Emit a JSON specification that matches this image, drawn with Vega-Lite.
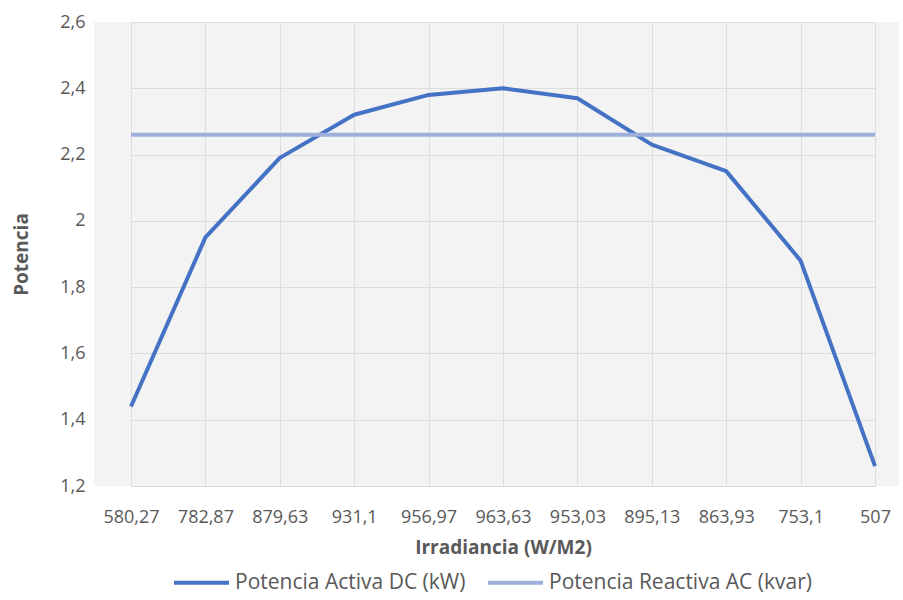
{
  "$schema": "https://vega.github.io/schema/vega-lite/v6.json",
  "width": 805,
  "height": 464,
  "autosize": {"type": "none"},
  "padding": {"left": 94, "top": 22, "right": 4, "bottom": 114},
  "background": "white",
  "config": {
    "font": "Open Sans",
    "view": {"fill": "#F3F3F3", "stroke": null},
    "axis": {"labelColor": "#595959", "titleColor": "#595959", "labelFontSize": 18, "titleFontSize": 19, "titleFontWeight": "bold", "gridColor": "#DDDDDD", "gridWidth": 1, "ticks": false}
  },
  "data": {
    "values": [
      {"irr": "580,27", "serie": "Potencia Activa DC (kW)", "valor": 1.44},
      {"irr": "782,87", "serie": "Potencia Activa DC (kW)", "valor": 1.95},
      {"irr": "879,63", "serie": "Potencia Activa DC (kW)", "valor": 2.19},
      {"irr": "931,1", "serie": "Potencia Activa DC (kW)", "valor": 2.32},
      {"irr": "956,97", "serie": "Potencia Activa DC (kW)", "valor": 2.38},
      {"irr": "963,63", "serie": "Potencia Activa DC (kW)", "valor": 2.40},
      {"irr": "953,03", "serie": "Potencia Activa DC (kW)", "valor": 2.37},
      {"irr": "895,13", "serie": "Potencia Activa DC (kW)", "valor": 2.23},
      {"irr": "863,93", "serie": "Potencia Activa DC (kW)", "valor": 2.15},
      {"irr": "753,1", "serie": "Potencia Activa DC (kW)", "valor": 1.88},
      {"irr": "507", "serie": "Potencia Activa DC (kW)", "valor": 1.26},
      {"irr": "580,27", "serie": "Potencia Reactiva AC (kvar)", "valor": 2.26},
      {"irr": "782,87", "serie": "Potencia Reactiva AC (kvar)", "valor": 2.26},
      {"irr": "879,63", "serie": "Potencia Reactiva AC (kvar)", "valor": 2.26},
      {"irr": "931,1", "serie": "Potencia Reactiva AC (kvar)", "valor": 2.26},
      {"irr": "956,97", "serie": "Potencia Reactiva AC (kvar)", "valor": 2.26},
      {"irr": "963,63", "serie": "Potencia Reactiva AC (kvar)", "valor": 2.26},
      {"irr": "953,03", "serie": "Potencia Reactiva AC (kvar)", "valor": 2.26},
      {"irr": "895,13", "serie": "Potencia Reactiva AC (kvar)", "valor": 2.26},
      {"irr": "863,93", "serie": "Potencia Reactiva AC (kvar)", "valor": 2.26},
      {"irr": "753,1", "serie": "Potencia Reactiva AC (kvar)", "valor": 2.26},
      {"irr": "507", "serie": "Potencia Reactiva AC (kvar)", "valor": 2.26}
    ]
  },
  "mark": {"type": "line", "strokeWidth": 4, "strokeJoin": "round", "strokeCap": "butt"},
  "encoding": {
    "x": {
      "field": "irr", "type": "ordinal", "sort": null,
      "scale": {"type": "point", "range": [37, 781], "padding": 0},
      "axis": {"title": "Irradiancia (W/M2)", "labelAngle": 0, "labelPadding": 22, "titlePadding": 12, "domainColor": "#D9D9D9", "domainWidth": 1, "grid": true}
    },
    "y": {
      "field": "valor", "type": "quantitative",
      "scale": {"domain": [1.2, 2.6], "nice": false, "zero": false},
      "axis": {"title": "Potencia", "values": [1.2, 1.4, 1.6, 1.8, 2, 2.2, 2.4, 2.6], "labelExpr": "replace(toString(datum.value), '.', ',')", "labelPadding": 9, "titlePadding": 28, "domain": false, "grid": true}
    },
    "color": {
      "field": "serie", "type": "nominal",
      "scale": {"domain": ["Potencia Activa DC (kW)", "Potencia Reactiva AC (kvar)"], "range": ["#4472C4", "#9DB0DC"]},
      "legend": {"title": null, "orient": "none", "direction": "horizontal", "legendX": 78, "legendY": 531, "symbolType": "stroke", "symbolSize": 3025, "symbolStrokeWidth": 4, "labelFontSize": 21, "labelColor": "#595959", "labelOffset": 4, "columnPadding": 14, "labelLimit": 400}
    }
  }
}
